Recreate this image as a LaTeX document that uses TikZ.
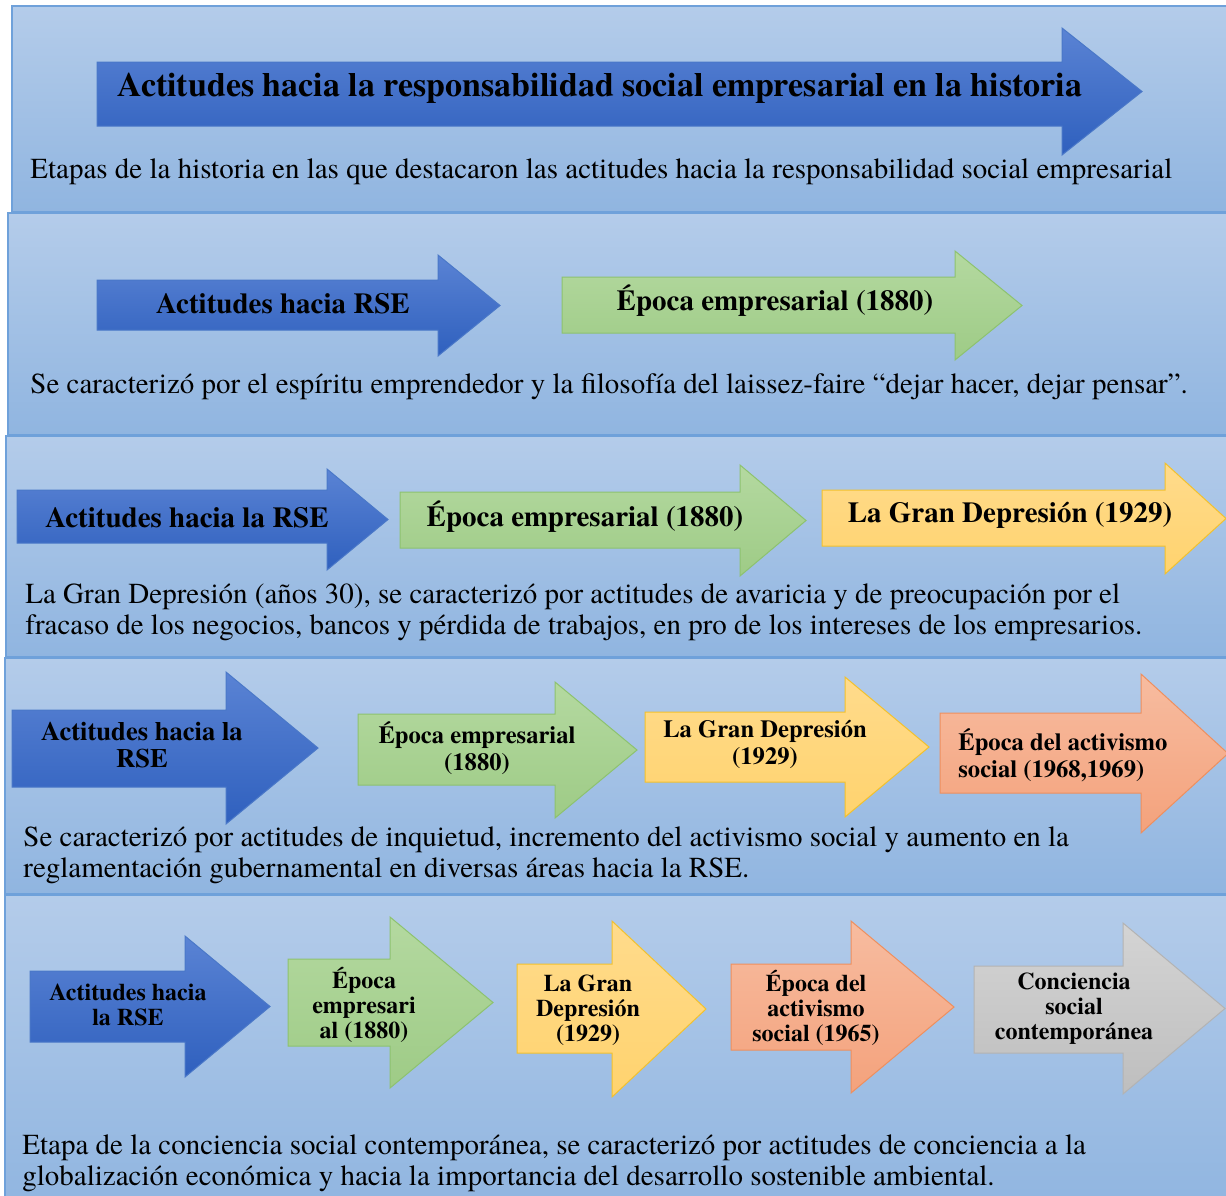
\documentclass[tikz,border=0pt]{standalone}
\usepackage{fontspec}
\setmainfont{texgyretermes}[Extension=.otf, UprightFont=*-regular, BoldFont=*-bold, ItalicFont=*-italic, BoldItalicFont=*-bolditalic]
\usetikzlibrary{calc}

\definecolor{panelA}{HTML}{B4CCEA}
\definecolor{panelB}{HTML}{90B5E0}
\definecolor{panelLine}{HTML}{6FA1DA}
\definecolor{azulA}{HTML}{5A83D4}
\definecolor{azulB}{HTML}{2F60BE}
\definecolor{azulLine}{HTML}{4A78C8}
\definecolor{verdeA}{HTML}{B4D9A0}
\definecolor{verdeB}{HTML}{9ECB86}
\definecolor{verdeLine}{HTML}{8DC26F}
\definecolor{amarilloA}{HTML}{FFDB8C}
\definecolor{amarilloB}{HTML}{FFD36E}
\definecolor{amarilloLine}{HTML}{F2C12E}
\definecolor{naranjaA}{HTML}{F7BCA0}
\definecolor{naranjaB}{HTML}{F4A27C}
\definecolor{naranjaLine}{HTML}{EE8F5E}
\definecolor{grisA}{HTML}{D4D4D4}
\definecolor{grisB}{HTML}{BEBEBE}
\definecolor{grisLine}{HTML}{B3B3B3}

% flecha: (shaft left, head start, tip)(shaft top, shaft bottom, head top, head bottom)
\def\flecha[#1](#2,#3,#4)(#5,#6,#7,#8){\draw[#1] (#2,#5) -- (#3,#5) -- (#3,#7) -- (#4,{(#7+#8)/2}) -- (#3,#8) -- (#3,#6) -- (#2,#6) -- cycle;}

\tikzset{
  panel/.style={top color=panelA, bottom color=panelB, draw=panelLine, line width=0.8pt},
  azul/.style={top color=azulA, bottom color=azulB, draw=azulLine, line width=0.5pt},
  verde/.style={top color=verdeA, bottom color=verdeB, draw=verdeLine, line width=0.5pt},
  amarillo/.style={top color=amarilloA, bottom color=amarilloB, draw=amarilloLine, line width=0.5pt},
  naranja/.style={top color=naranjaA, bottom color=naranjaB, draw=naranjaLine, line width=0.5pt},
  gris/.style={top color=grisA, bottom color=grisB, draw=grisLine, line width=0.5pt},
  rotulo/.style={align=center, inner sep=0pt, font=\bfseries\fontsize{14.5}{16}\selectfont},
  rotulochico/.style={rotulo, font=\bfseries\fontsize{12.3}{13.5}\selectfont},
  rotulomini/.style={rotulo, font=\bfseries\fontsize{12}{12.5}\selectfont},
  cuerpo/.style={anchor=west, align=left, inner sep=0pt, font=\fontsize{14.5}{15.5}\selectfont}
}

\begin{document}
\begin{tikzpicture}[x=0.5pt, y=-0.5pt]
			%%%%% MARGINS %%%%%
			\useasboundingbox (0,0) rectangle (1226,1195);
			
			%%%%% PANELS %%%%%
			\draw[panel] (12,6) rectangle (1240,212);
			\draw[panel] (8,213) rectangle (1240,435);
			\draw[panel] (6,436) rectangle (1240,657);
			\draw[panel] (5,658) rectangle (1240,894);
			\draw[panel] (5,895) rectangle (1240,1210);
			
			%%%%% ROW 1 %%%%%
			\flecha[azul](97,1062,1142)(62,126,28,155)
			\node[rotulo, font=\bfseries\fontsize{17}{19}\selectfont] (titulo) at (600,88) {Actitudes hacia la responsabilidad social empresarial en la historia};
			\node[cuerpo] (etapas) at (30,172) {Etapas de la historia en las que destacaron las actitudes hacia la responsabilidad social empresarial};
			
			%%%%% ROW 2 %%%%%
			\flecha[azul](97,438,500)(280,330,255,356)
			\flecha[verde](562,955,1022)(277,333,251,360)
			\node[rotulo] (rseDos) at (283,304) {Actitudes hacia RSE};
			\node[rotulo] (empDos) at (775,301) {Época empresarial (1880)};
			\node[cuerpo] (txtDos) at (30,387) {Se caracterizó por el espíritu emprendedor y la filosofía del laissez-faire “dejar hacer, dejar pensar”.};
			
			%%%%% ROW 3 %%%%%
			\flecha[azul](17,327,388)(490,543,469,570)
			\flecha[verde](400,740,806)(492,548,465,576)
			\flecha[amarillo](822,1165,1226)(490,546,463,574)
			\node[rotulo] (rseTres) at (187,518) {Actitudes hacia la RSE};
			\node[rotulo] (empTres) at (585,517) {Época empresarial (1880)};
			\node[rotulo] (depTres) at (1010,515) {La Gran Depresión (1929)};
			\node[cuerpo] (txtTres) at (25,612) {La Gran Depresión (años 30), se caracterizó por actitudes de avaricia y de preocupación por el\\fracaso de los negocios, bancos y pérdida de trabajos, en pro de los intereses de los empresarios.};
			
			%%%%% ROW 4 %%%%%
			\flecha[azul](12,226,318)(710,787,672,824)
			\flecha[verde](358,555,637)(714,785,682,818)
			\flecha[amarillo](645,845,929)(712,782,677,817)
			\flecha[naranja](940,1141,1228)(713,793,674,833)
			\node[rotulochico, font=\bfseries\fontsize{13.3}{13.5}\selectfont] (rseCuatro) at (142,745) {Actitudes hacia la\\RSE};
			\node[rotulochico] (empCuatro) at (477,748) {Época empresarial\\(1880)};
			\node[rotulochico] (depCuatro) at (765,744) {La Gran Depresión\\(1929)};
			\node[rotulochico, anchor=west, align=left] (actCuatro) at (958,755) {Época del activismo\\social (1968,1969)};
			\node[cuerpo] (txtCuatro) at (23,855) {Se caracterizó por actitudes de inquietud, incremento del activismo social y aumento en la\\reglamentación gubernamental en diversas áreas hacia la RSE.};
			
			%%%%% ROW 5 %%%%%
			\flecha[azul](30,185,270)(971,1042,936,1077)
			\flecha[verde](288,390,493)(959,1046,917,1088)
			\flecha[amarillo](517,612,706)(964,1053,921,1097)
			\flecha[naranja](731,851,954)(964,1050,921,1093)
			\flecha[gris](974,1123,1225)(966,1053,923,1094)
			\node[rotulomini] (rseCinco) at (128,1005) {Actitudes hacia\\la RSE};
			\node[rotulomini] (empCinco) at (364,1005) {Época\\empresari\\al (1880)};
			\node[rotulomini] (depCinco) at (588,1010) {La Gran\\Depresión\\(1929)};
			\node[rotulomini] (actCinco) at (816,1008) {Época del\\activismo\\social (1965)};
			\node[rotulomini] (conCinco) at (1074,1009) {Conciencia\\social\\contemporánea};
			\node[cuerpo] (txtCinco) at (22,1163) {Etapa de la conciencia social contemporánea, se caracterizó por actitudes de conciencia a la\\globalización económica y hacia la importancia del desarrollo sostenible ambiental.};
			
		\end{tikzpicture}
\end{document}
